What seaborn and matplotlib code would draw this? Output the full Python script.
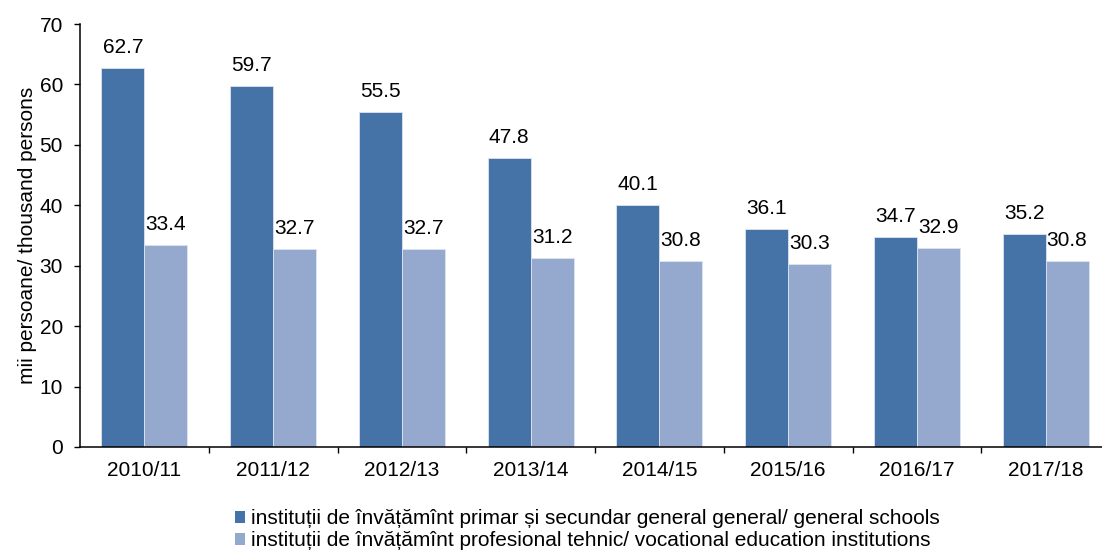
import numpy as np
import pandas as pd
import seaborn as sns
import matplotlib.pyplot as plt

from matplotlib.patches import Patch

years = ["2010/11", "2011/12", "2012/13", "2013/14", "2014/15", "2015/16", "2016/17", "2017/18"]
general = [62.7, 59.7, 55.5, 47.8, 40.1, 36.1, 34.7, 35.2]
vocational = [33.4, 32.7, 32.7, 31.2, 30.8, 30.3, 32.9, 30.8]

series = [
    "instituții de învățămînt primar și secundar general general/ general schools",
    "instituții de învățămînt profesional tehnic/ vocational education institutions",
]
palette = ["#4572A7", "#95A9CF"]

sns.set_style("white")
plt.rcParams["font.family"] = ["Liberation Sans", "DejaVu Sans"]
plt.rcParams["font.size"] = 15
plt.rcParams["text.color"] = "black"
plt.rcParams["axes.labelcolor"] = "black"
plt.rcParams["xtick.color"] = "black"
plt.rcParams["ytick.color"] = "black"

df = pd.DataFrame({
    "year": years * 2,
    "value": general + vocational,
    "series": [series[0]] * len(years) + [series[1]] * len(years),
})

fig = plt.figure(figsize=(11.02, 5.56), dpi=100)
ax = fig.add_axes([80 / 1102, 1 - 447 / 556, 1030 / 1102, 423 / 556])

sns.barplot(
    data=df,
    x="year",
    y="value",
    hue="series",
    palette=palette,
    saturation=1,
    width=2 / 3,
    edgecolor="#dce4f0",
    linewidth=0.6,
    ax=ax,
)

for cont in ax.containers:
    ax.bar_label(cont, fmt="%.1f", padding=8, fontsize=15, color="black")

ax.set_xlim(-0.5, 7.5)
ax.set_ylim(0, 70)
ax.set_yticks(np.arange(0, 71, 10))
ax.set_xlabel("")
ax.set_ylabel("mii persoane/ thousand persons", fontsize=15, labelpad=2)

ax.set_xticks(np.arange(0.5, 7.5, 1), minor=True)
ax.tick_params(axis="x", which="major", length=0, labelsize=15, pad=10)
ax.tick_params(axis="x", which="minor", length=4, width=1, direction="out", bottom=True)
ax.tick_params(axis="y", length=4.3, width=1, direction="out", left=True, labelsize=15, pad=8)

for side in ["top", "right"]:
    ax.spines[side].set_visible(False)
for side in ["left", "bottom"]:
    ax.spines[side].set_color("black")
    ax.spines[side].set_linewidth(1.1)

if ax.get_legend():
    ax.get_legend().remove()

handles = [Patch(facecolor=c, edgecolor="none", label=s) for c, s in zip(palette, series)]
fig.legend(
    handles=handles,
    loc="upper left",
    bbox_to_anchor=(235 / 1102, 1 - 509 / 556),
    frameon=False,
    fontsize=15,
    handlelength=0.5,
    handleheight=0.5,
    handletextpad=0.25,
    labelspacing=0.15,
    borderaxespad=0,
    borderpad=0,
)

fig.savefig("out.png", dpi=100)
